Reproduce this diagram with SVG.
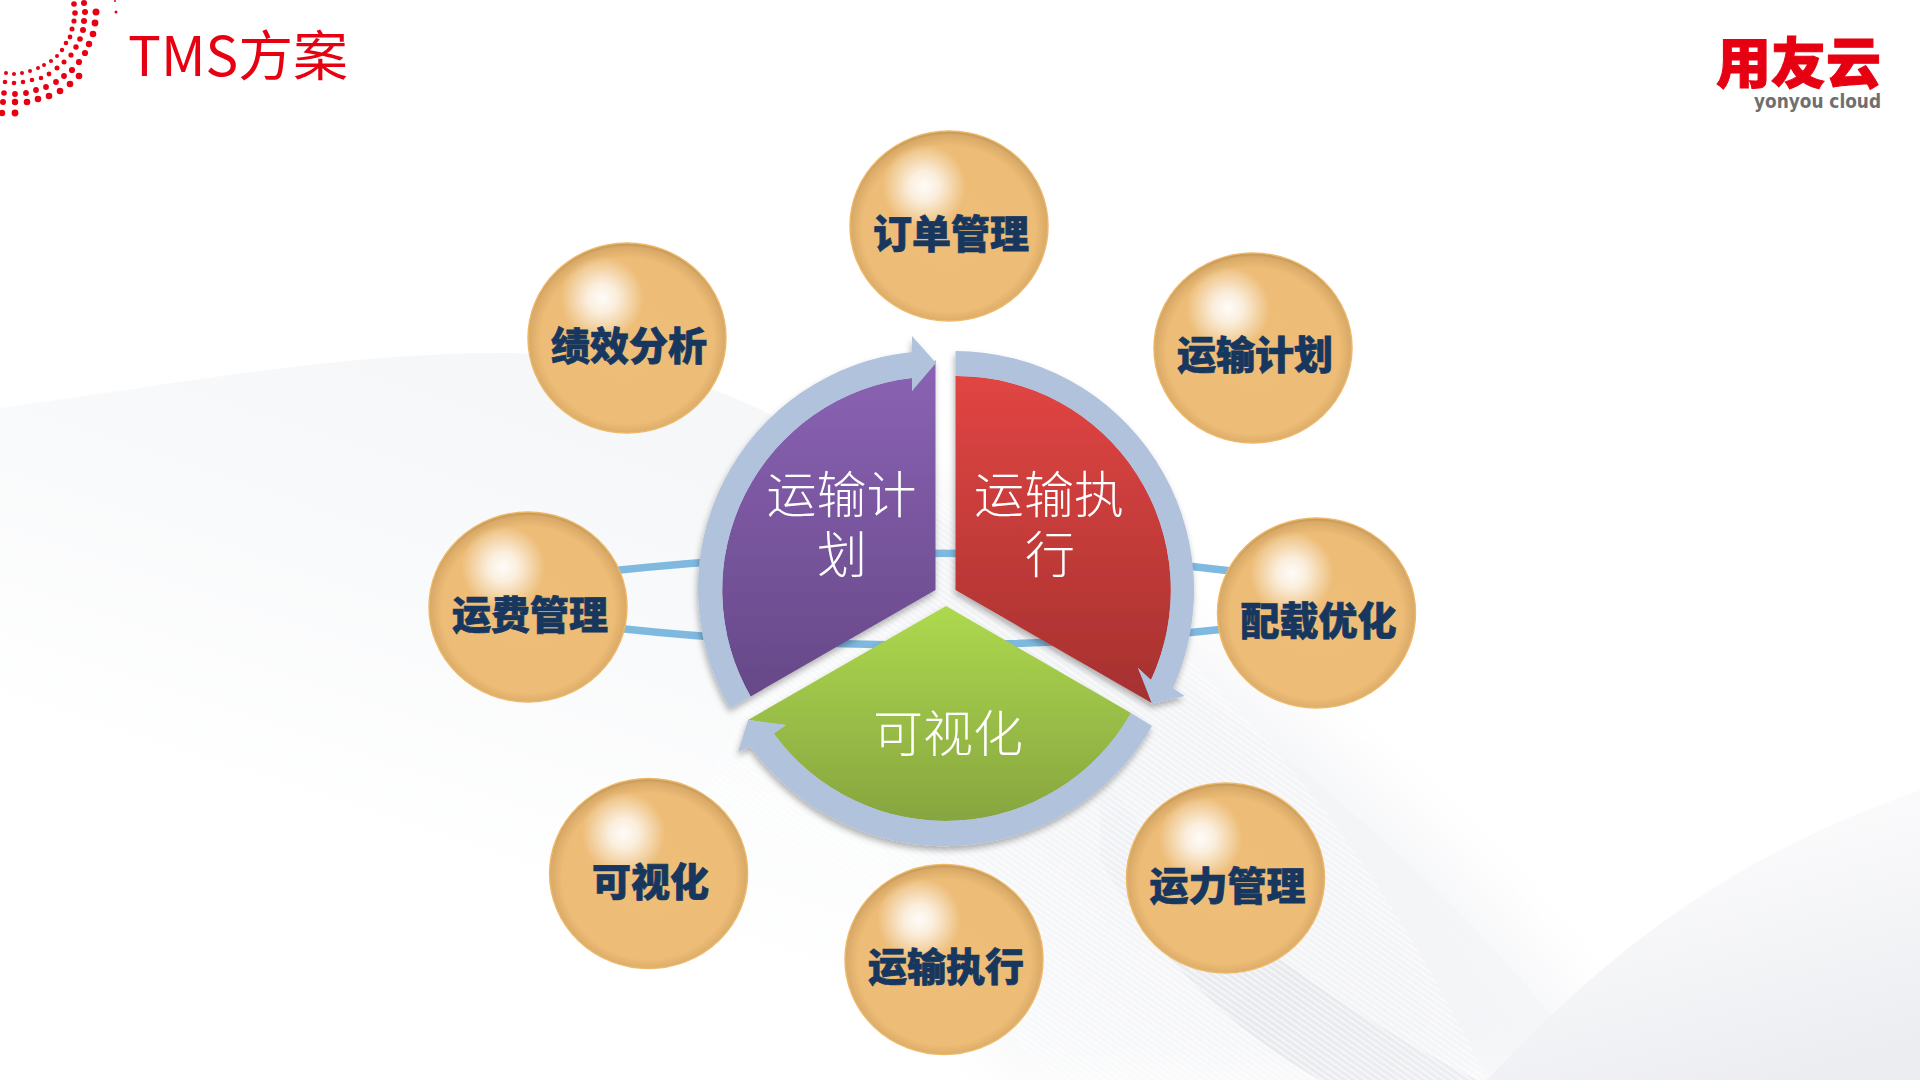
<svg xmlns="http://www.w3.org/2000/svg" width="1920" height="1080" viewBox="0 0 1920 1080">
<style>
.ball{fill:url(#ball);stroke:#eeb868;stroke-width:1.5}
.hl{fill:url(#hl)}
.lbl{font-family:"Noto Sans CJK SC","Noto Sans",sans-serif;font-weight:900;font-size:39px;fill:#17375e;stroke:#17375e;stroke-width:.7;text-anchor:middle}
.pie{font-family:"Noto Sans CJK SC","Noto Sans",sans-serif;font-weight:300;font-size:50px;fill:#fff;text-anchor:middle}
.ring{fill:#b0c2dc}
.dot{fill:#e60012}
.con{fill:none;stroke:#7fb9e0;stroke-width:7.5}
</style>
<defs>
<radialGradient id="ball" cx=".5" cy=".515" r=".52">
<stop offset="0" stop-color="#eebe79"/><stop offset=".84" stop-color="#edbc76"/><stop offset=".95" stop-color="#d9aa68"/><stop offset="1" stop-color="#b98c4c"/>
</radialGradient>
<radialGradient id="hl"><stop offset="0" stop-color="#fff" stop-opacity=".95"/><stop offset=".35" stop-color="#fff" stop-opacity=".75"/><stop offset="1" stop-color="#fff" stop-opacity="0"/></radialGradient>
<linearGradient id="gP" x1="0" y1="0" x2="0" y2="1"><stop offset="0" stop-color="#8b63b5"/><stop offset="1" stop-color="#664887"/></linearGradient>
<linearGradient id="gR" x1="0" y1="0" x2="0" y2="1"><stop offset="0" stop-color="#e14543"/><stop offset="1" stop-color="#a5312f"/></linearGradient>
<linearGradient id="gG" x1="0" y1="0" x2="0" y2="1"><stop offset="0" stop-color="#add94f"/><stop offset="1" stop-color="#87a53f"/></linearGradient>
<linearGradient id="gLeft" gradientUnits="userSpaceOnUse" x1="400" y1="350" x2="250" y2="800"><stop offset="0" stop-color="#f6f7f9"/><stop offset=".45" stop-color="#f9fafb"/><stop offset="1" stop-color="#fff"/></linearGradient>
<linearGradient id="gBand" gradientUnits="userSpaceOnUse" x1="1500" y1="650" x2="1000" y2="1080"><stop offset="0" stop-color="#f2f3f6" stop-opacity="0"/><stop offset=".5" stop-color="#f2f3f6"/><stop offset="1" stop-color="#f5f6f8" stop-opacity=".6"/></linearGradient>
<linearGradient id="gCorner" x1=".3" y1="0" x2=".7" y2="1"><stop offset="0" stop-color="#fff"/><stop offset="1" stop-color="#ecedf1"/></linearGradient>
<linearGradient id="gDark" x1="0" y1="0" x2="1" y2="1"><stop offset="0" stop-color="#f2f3f6"/><stop offset=".6" stop-color="#e7e9ed"/><stop offset="1" stop-color="#eceef1"/></linearGradient>
<pattern id="hatch" width="5" height="5" patternUnits="userSpaceOnUse" patternTransform="rotate(35)"><rect width="5" height="2" fill="#fff" fill-opacity=".55"/></pattern>
<filter id="blur" x="-20%" y="-20%" width="140%" height="140%"><feGaussianBlur stdDeviation="30"/></filter>
<filter id="sh" x="-10%" y="-10%" width="120%" height="120%"><feDropShadow dx="-1" dy="4" stdDeviation="3" flood-color="#000" flood-opacity=".3"/></filter>
</defs>

<g id="background">
<rect width="1920" height="1080" fill="#fff"/>
<path d="M0,408C170,385 340,353 500,353C640,353 760,395 860,470C1100,620 1400,800 1600,1080L0,1080Z" fill="url(#gLeft)"/>
<path d="M860,470C1050,540 1400,720 1640,1080L1000,1080C950,960 900,800 860,470Z" fill="url(#gBand)" filter="url(#blur)"/>
<path d="M1100,770C1180,890 1300,990 1477,1080L1320,1080C1230,1030 1150,950 1100,860Z" fill="url(#gDark)"/>
<path d="M1487,1080C1600,960 1720,860 1920,790L1920,1080Z" fill="url(#gCorner)"/>
<path d="M860,470C1050,520 1300,690 1487,1080L1050,1080C950,960 830,860 700,800Z" fill="url(#hatch)"/>
</g>

<g id="corner-dots">
<circle class="dot" cx="74" cy="4" r="2.8"/><circle class="dot" cx="84" cy="3" r="3"/>
<circle class="dot" cx="75" cy="13" r="2.8"/><circle class="dot" cx="85" cy="12" r="3"/><circle class="dot" cx="96" cy="12" r="3.5"/>
<circle class="dot" cx="74" cy="21" r="2.6"/><circle class="dot" cx="84" cy="21" r="3"/><circle class="dot" cx="95" cy="23" r="3.4"/>
<circle class="dot" cx="72" cy="29" r="2.5"/><circle class="dot" cx="83" cy="30" r="3"/><circle class="dot" cx="93" cy="34" r="3.3"/>
<circle class="dot" cx="70" cy="37" r="2.4"/><circle class="dot" cx="80" cy="39" r="2.8"/><circle class="dot" cx="89" cy="44" r="3.2"/>
<circle class="dot" cx="66" cy="43" r="2.3"/><circle class="dot" cx="76" cy="47" r="2.7"/><circle class="dot" cx="85" cy="53" r="3.1"/>
<circle class="dot" cx="62" cy="50" r="2.2"/><circle class="dot" cx="71" cy="55" r="2.6"/><circle class="dot" cx="79" cy="62" r="3.1"/>
<circle class="dot" cx="51" cy="61" r="2.1"/><circle class="dot" cx="57" cy="56" r="2"/><circle class="dot" cx="64" cy="62" r="2.5"/><circle class="dot" cx="72" cy="70" r="3.1"/>
<circle class="dot" cx="44" cy="65" r="2"/><circle class="dot" cx="57" cy="68" r="2.5"/><circle class="dot" cx="64" cy="76" r="2.9"/><circle class="dot" cx="79" cy="76" r="3.3"/>
<circle class="dot" cx="38" cy="68" r="2"/><circle class="dot" cx="49" cy="74" r="2.4"/><circle class="dot" cx="56" cy="82" r="2.9"/><circle class="dot" cx="70" cy="84" r="3.3"/>
<circle class="dot" cx="30" cy="71" r="2"/><circle class="dot" cx="41" cy="78" r="2.3"/><circle class="dot" cx="46" cy="87" r="2.9"/><circle class="dot" cx="60" cy="91" r="3.3"/>
<circle class="dot" cx="22" cy="73" r="2"/><circle class="dot" cx="32" cy="80" r="2.3"/><circle class="dot" cx="36" cy="90" r="2.9"/><circle class="dot" cx="49" cy="96" r="3.3"/>
<circle class="dot" cx="14" cy="74" r="2"/><circle class="dot" cx="23" cy="82" r="2.3"/><circle class="dot" cx="26" cy="93" r="2.9"/><circle class="dot" cx="38" cy="99" r="3.3"/>
<circle class="dot" cx="6" cy="73" r="2"/><circle class="dot" cx="14" cy="83" r="2.3"/><circle class="dot" cx="15" cy="94" r="2.9"/><circle class="dot" cx="27" cy="102" r="3.3"/>
<circle class="dot" cx="5" cy="82" r="2.3"/><circle class="dot" cx="4" cy="93" r="2.8"/><circle class="dot" cx="15" cy="102" r="3.2"/><circle class="dot" cx="15" cy="113" r="3.4"/>
<circle class="dot" cx="3" cy="102" r="3"/><circle class="dot" cx="2" cy="113" r="3.2"/>
<circle class="dot" cx="115" cy="1" r="1"/><circle class="dot" cx="116" cy="12" r="1.5"/>
</g>

<text id="title" x="128" y="76" font-family="'Noto Sans CJK SC','Noto Sans',sans-serif" font-size="54" fill="#e60012" textLength="220" lengthAdjust="spacingAndGlyphs">TMS方案</text>

<g id="logo">
<text x="1716" y="83" font-family="'Noto Sans CJK SC',sans-serif" font-weight="900" font-size="55" fill="#e60012" stroke="#e60012" stroke-width="1" textLength="165" lengthAdjust="spacingAndGlyphs">用友云</text>
<text x="1754" y="108" font-family="'DejaVu Sans',sans-serif" font-weight="700" font-size="19" fill="#6f6f6f" textLength="127" lengthAdjust="spacingAndGlyphs">yonyou cloud</text>
</g>

<g id="connectors">
<path class="con" d="M610,571Q945,535 1240,572"/>
<path class="con" d="M615,628Q930,662 1235,628"/>
</g>

<g id="pie-plan" filter="url(#sh)">
<path d="M935.5,590L750.6,696.5A213.5,213.5 0 0 1 912,378L912,391L935.5,360Z" fill="url(#gP)"/>
<path class="ring" d="M730,708A238,238 0 0 1 912,352L912,336L936,363L912,391L912,378A213.5,213.5 0 0 0 750.6,696.5Z"/>
<text class="pie" x="841.5" y="513">运输计</text><text class="pie" x="842" y="573">划</text>
</g>
<g id="pie-exec" filter="url(#sh)">
<path d="M955.5,590L955.5,376A214,214 0 0 1 1151,680L1138,668L1153.5,704Z" fill="url(#gR)"/>
<path class="ring" d="M955.5,351A239,239 0 0 1 1173,688L1184.5,696L1152,704L1138,668L1151,680A214,214 0 0 0 955.5,376Z"/>
<text class="pie" x="1049" y="513">运输执</text><text class="pie" x="1050" y="573">行</text>
</g>
<g id="pie-vis" filter="url(#sh)">
<path d="M946,606L1131,713A213,213 0 0 1 773.7,733.6L786,725L748,720Z" fill="url(#gG)"/>
<path class="ring" d="M1152,726A239,239 0 0 1 750.6,746.7L738,752L748,720L786,725L773.7,733.6A213,213 0 0 0 1131,713Z"/>
<text class="pie" x="948" y="752">可视化</text>
</g>

<g id="n-order" transform="translate(949,226)"><ellipse class="ball" rx="99" ry="95"/><ellipse class="hl" cx="-25" cy="-40" rx="42" ry="42"/><text class="lbl" x="2" y="22">订单管理</text></g>
<g id="n-plan" transform="translate(1253,348)"><ellipse class="ball" rx="99" ry="95"/><ellipse class="hl" cx="-25" cy="-40" rx="42" ry="42"/><text class="lbl" x="2" y="21">运输计划</text></g>
<g id="n-load" transform="translate(1316.5,613)"><ellipse class="ball" rx="99" ry="95"/><ellipse class="hl" cx="-25" cy="-40" rx="42" ry="42"/><text class="lbl" x="2" y="22">配载优化</text></g>
<g id="n-capacity" transform="translate(1225.5,878)"><ellipse class="ball" rx="99" ry="95"/><ellipse class="hl" cx="-25" cy="-40" rx="42" ry="42"/><text class="lbl" x="2" y="22">运力管理</text></g>
<g id="n-exec" transform="translate(944,959.5)"><ellipse class="ball" rx="99" ry="95"/><ellipse class="hl" cx="-25" cy="-40" rx="42" ry="42"/><text class="lbl" x="2" y="21">运输执行</text></g>
<g id="n-vis" transform="translate(648.6,873.5)"><ellipse class="ball" rx="99" ry="95"/><ellipse class="hl" cx="-25" cy="-40" rx="42" ry="42"/><text class="lbl" x="2" y="22">可视化</text></g>
<g id="n-fee" transform="translate(528,607)"><ellipse class="ball" rx="99" ry="95"/><ellipse class="hl" cx="-25" cy="-40" rx="42" ry="42"/><text class="lbl" x="2" y="22">运费管理</text></g>
<g id="n-kpi" transform="translate(627,338)"><ellipse class="ball" rx="99" ry="95"/><ellipse class="hl" cx="-25" cy="-40" rx="42" ry="42"/><text class="lbl" x="2" y="22">绩效分析</text></g>
</svg>
